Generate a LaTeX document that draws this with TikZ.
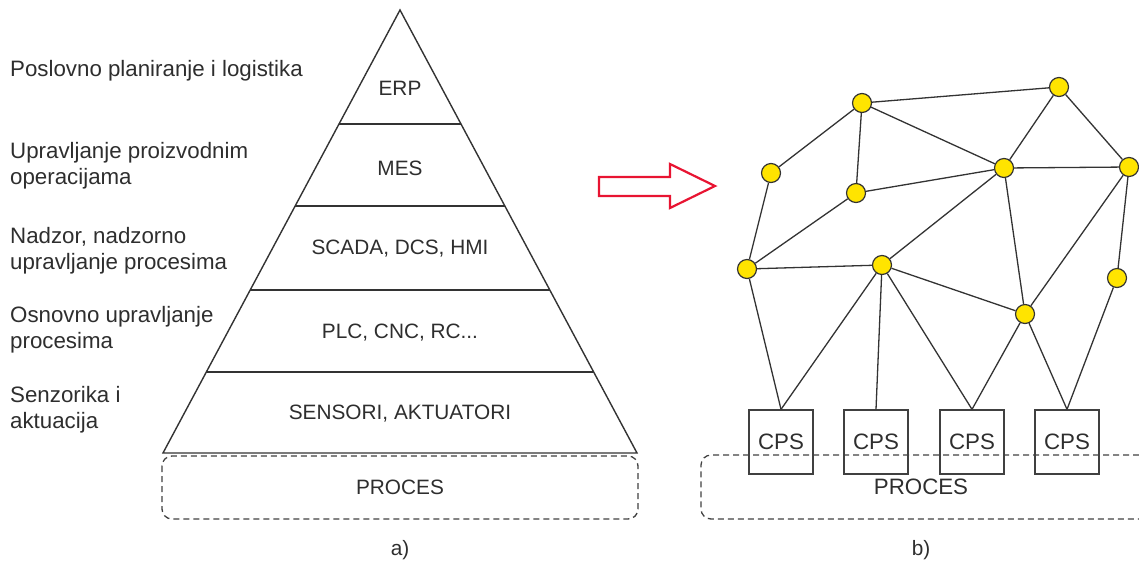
\documentclass[tikz,border=0pt]{standalone}
\usepackage{fontspec}
\setmainfont{Liberation Sans}
\usetikzlibrary{calc}
\definecolor{nodey}{RGB}{255,228,0}
\definecolor{arrred}{RGB}{232,20,50}
\begin{document}
\begin{tikzpicture}[x=1pt,y=-1pt,
  txt/.style={font=\fontsize{20.8}{26}\selectfont, text=black!82, inner sep=0pt},
  bigtxt/.style={txt, font=\fontsize{22.3}{26.5}\selectfont},
  lbl/.style={bigtxt, anchor=west, align=left},
  pyr/.style={draw=black!80, line width=1.4pt},
  dbox/.style={draw=black!75, line width=1.3pt, dash pattern=on 6pt off 4pt, rounded corners=10pt},
  nd/.style={circle, draw=black!80, fill=nodey, minimum size=19pt, inner sep=0pt, line width=1.2pt},
  ed/.style={draw=black!80, line width=1.3pt},
  cps/.style={bigtxt, draw=black!75, line width=1.3pt, minimum size=64pt, inner sep=0pt},
]
\useasboundingbox (0,0) rectangle (1139,563);

% ---- pyramid ----
\coordinate (apex) at (400,10);
\coordinate (bl) at (163,453);
\coordinate (br) at (637,453);
\draw[pyr] (bl) -- (apex) -- (br) -- cycle;
\foreach \yy in {124,206,290,372}{
  \draw[pyr] ($(apex)!{(\yy-10)/443}!(bl)$) -- ($(apex)!{(\yy-10)/443}!(br)$);
}
\node[txt] (erp) at (400,88) {ERP};
\node[txt] (mes) at (400,168) {MES};
\node[txt] (scada) at (400,249) {SCADA, DCS, HMI};
\node[txt] (plc) at (400,333) {PLC, CNC, RC...};
\node[txt] (sens) at (400,414) {SENSORI, AKTUATORI};
\draw[dbox] (162,456) rectangle (638,519);
\node[txt] (procA) at (400,487) {PROCES};
\node[txt] (la) at (400,550) {a)};

% ---- left labels ----
\node[lbl] (l1) at (10,71) {Poslovno planiranje i logistika};
\node[lbl] (l2) at (10,165.5) {Upravljanje proizvodnim\\operacijama};
\node[lbl] (l3) at (10,250.5) {Nadzor, nadzorno\\upravljanje procesima};
\node[lbl] (l4) at (10,329.5) {Osnovno upravljanje\\procesima};
\node[lbl] (l5) at (10,409.5) {Senzorika i\\aktuacija};

% ---- arrow ----
\draw[arrred, line width=2.2pt, line join=miter]
  (599,177) -- (670,177) -- (670,164) -- (715,186) -- (670,208) -- (670,196) -- (599,196) -- cycle;

% ---- network ----
\draw[dbox] (1139,455) -- (701,455) -- (701,519) -- (1139,519);
\node[bigtxt] (procB) at (921,487) {PROCES};
\node[txt] (lb) at (921,550) {b)};

\node[cps] (c1) at (781,442) {CPS};
\node[cps] (c2) at (876,442) {CPS};
\node[cps] (c3) at (972,442) {CPS};
\node[cps] (c4) at (1067,442) {CPS};

\node[nd] (A) at (862,103) {};
\node[nd] (B) at (1059,87) {};
\node[nd] (C) at (771,173) {};
\node[nd] (D) at (856,193) {};
\node[nd] (E) at (1004,168) {};
\node[nd] (F) at (1129,167) {};
\node[nd] (G) at (747,269) {};
\node[nd] (H) at (882,265) {};
\node[nd] (I) at (1117,278) {};
\node[nd] (J) at (1025,314) {};

\foreach \a/\b in {A/B,A/C,A/D,A/E,B/E,B/F,C/G,D/E,D/G,E/F,E/H,E/J,F/J,F/I,G/H,H/J}{
  \draw[ed] (\a) -- (\b);
}
\draw[ed] (G) -- (c1.north);
\draw[ed] (H) -- (c1.north);
\draw[ed] (H) -- (c2.north);
\draw[ed] (H) -- (c3.north);
\draw[ed] (J) -- (c3.north);
\draw[ed] (J) -- (c4.north);
\draw[ed] (I) -- (c4.north);
\end{tikzpicture}
\end{document}
